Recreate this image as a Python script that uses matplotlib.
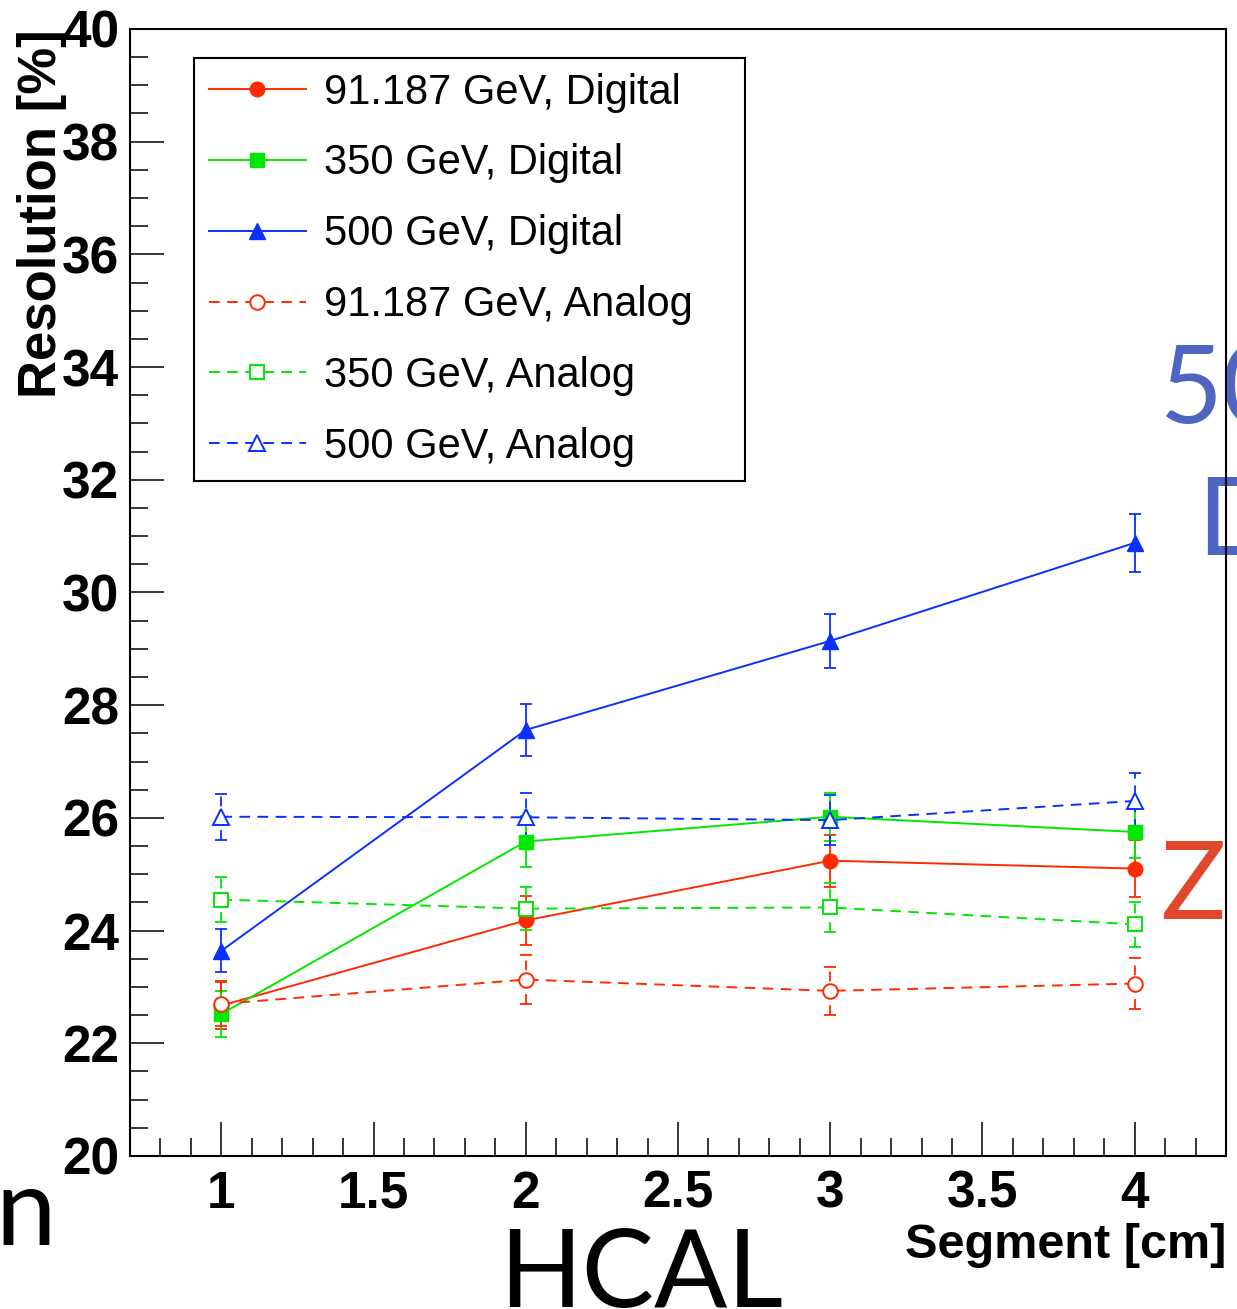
import matplotlib
matplotlib.use("Agg")
import matplotlib.pyplot as plt
from matplotlib.ticker import FixedLocator, MultipleLocator

# segment size of the HCAL [cm]
segment = [1, 2, 3, 4]

# energy resolution [%] and errors
res_z_dig = [22.67, 24.18, 25.24, 25.10]
err_z_dig = [0.41, 0.43, 0.46, 0.50]
res_350_dig = [22.52, 25.58, 26.02, 25.75]
err_350_dig = [0.40, 0.46, 0.43, 0.46]
res_500_dig = [23.64, 27.56, 29.14, 30.88]
err_500_dig = [0.38, 0.46, 0.48, 0.52]
res_z_ana = [22.70, 23.13, 22.93, 23.06]
err_z_ana = [0.40, 0.43, 0.42, 0.45]
res_350_ana = [24.55, 24.39, 24.41, 24.11]
err_350_ana = [0.40, 0.38, 0.43, 0.40]
res_500_ana = [26.02, 26.01, 25.96, 26.30]
err_500_ana = [0.41, 0.44, 0.45, 0.50]

labels = ["91.187 GeV, Digital", "350 GeV, Digital", "500 GeV, Digital",
          "91.187 GeV, Analog", "350 GeV, Analog", "500 GeV, Analog"]

x_ticks = [1, 1.5, 2, 2.5, 3, 3.5, 4]
x_ticklabels = ["1", "1.5", "2", "2.5", "3", "3.5", "4"]
y_ticks = [20, 22, 24, 26, 28, 30, 32, 34, 36, 38, 40]

RED = "#ff2a00"
GREEN = "#00e800"
BLUE = "#0a30ff"

series = [
    (res_z_dig, err_z_dig, RED, "o", "-", True),
    (res_350_dig, err_350_dig, GREEN, "s", "-", True),
    (res_500_dig, err_500_dig, BLUE, "^", "-", True),
    (res_z_ana, err_z_ana, RED, "o", "--", False),
    (res_350_ana, err_350_ana, GREEN, "s", "--", False),
    (res_500_ana, err_500_ana, BLUE, "^", "--", False),
]

fig = plt.figure(figsize=(12.37, 13.09), dpi=100)
fig.patch.set_facecolor("white")
ax = fig.add_axes([0.1051, 0.1169, 0.886, 0.861])
ax.set_facecolor("none")

for (vals, errs, col, mk, ls, filled), lab in zip(series, labels):
    eb = ax.errorbar(segment, vals, yerr=errs, fmt="none", ecolor=col,
                     elinewidth=1.3, capsize=4.5, capthick=1.3, zorder=2)
    if ls == "--":
        eb[2][0].set_linestyle((0, (5.5, 3.8)))
    line, = ax.plot(segment, vals, color=col, lw=1.4, marker=mk,
                    markersize=10.5 if mk != "^" else 11.5,
                    markerfacecolor=col if filled else "white",
                    markeredgecolor=col, markeredgewidth=1.4 if not filled else 1,
                    label=lab, zorder=3)
    if ls == "--":
        line.set_linestyle((0, (5.5, 3.8)))

ax.set_xlim(0.7, 4.3)
ax.set_ylim(20, 40)
ax.xaxis.set_major_locator(FixedLocator(x_ticks))
ax.set_xticklabels(x_ticklabels)
ax.xaxis.set_minor_locator(MultipleLocator(0.1))
ax.yaxis.set_major_locator(FixedLocator(y_ticks))
ax.yaxis.set_minor_locator(MultipleLocator(0.5))

for lab in ax.get_xticklabels() + ax.get_yticklabels():
    lab.set_fontfamily("Liberation Sans")
    lab.set_fontweight("bold")
    lab.set_fontsize(37)

ax.tick_params(axis="both", which="major", direction="in", length=24.5, width=1.1)
ax.tick_params(axis="both", which="minor", direction="in", length=13, width=1.1)
ax.tick_params(axis="x", which="major", pad=10)
ax.tick_params(axis="y", which="major", pad=8)
ax.tick_params(top=False, right=False, which="both")
for sp in ax.spines.values():
    sp.set_linewidth(1.5)

ax.text(-0.080, 1.0, "Resolution [%]", transform=ax.transAxes, rotation=90,
        ha="center", va="top", fontfamily="Liberation Sans", fontweight="bold",
        fontsize=38)
ax.text(1.0, -0.0596, "Segment [cm]", transform=ax.transAxes,
        ha="right", va="top", fontfamily="Liberation Sans", fontweight="bold",
        fontsize=35)

leg = ax.legend(loc="upper left", bbox_to_anchor=(0.0584, 0.598, 0.5027, 0.3762),
                mode="expand", borderaxespad=0, numpoints=1, fancybox=False,
                framealpha=1, edgecolor="black", handlelength=2.33,
                handletextpad=0.43, labelspacing=0.74, borderpad=0.35,
                prop={"family": "Liberation Sans", "size": 30})
leg.get_frame().set_linewidth(1.5)

# fragments of the slide around the plot
slide_font = {"family": "Lato", "size": 78}
fig.text(1160 / 1237, 1 - 423 / 1309, "50", color="#4e65c1", ha="left",
         va="baseline", zorder=-1, **slide_font)
fig.text(1197 / 1237, 1 - 555 / 1309, "D", color="#4e65c1", ha="left",
         va="baseline", zorder=-1, **slide_font)
fig.text(1160 / 1237, 1 - 919 / 1309, "Z", color="#e1472b", ha="left",
         va="baseline", zorder=-1, **slide_font)
fig.text(-5 / 1237, 1 - 1245 / 1309, "n", color="black", ha="left",
         va="baseline", zorder=-1, **slide_font)
fig.text(499 / 1237, 1 - 1307 / 1309, "HCAL", color="black", ha="left",
         va="baseline", zorder=-1, **slide_font)

fig.savefig("out.png", dpi=100)
